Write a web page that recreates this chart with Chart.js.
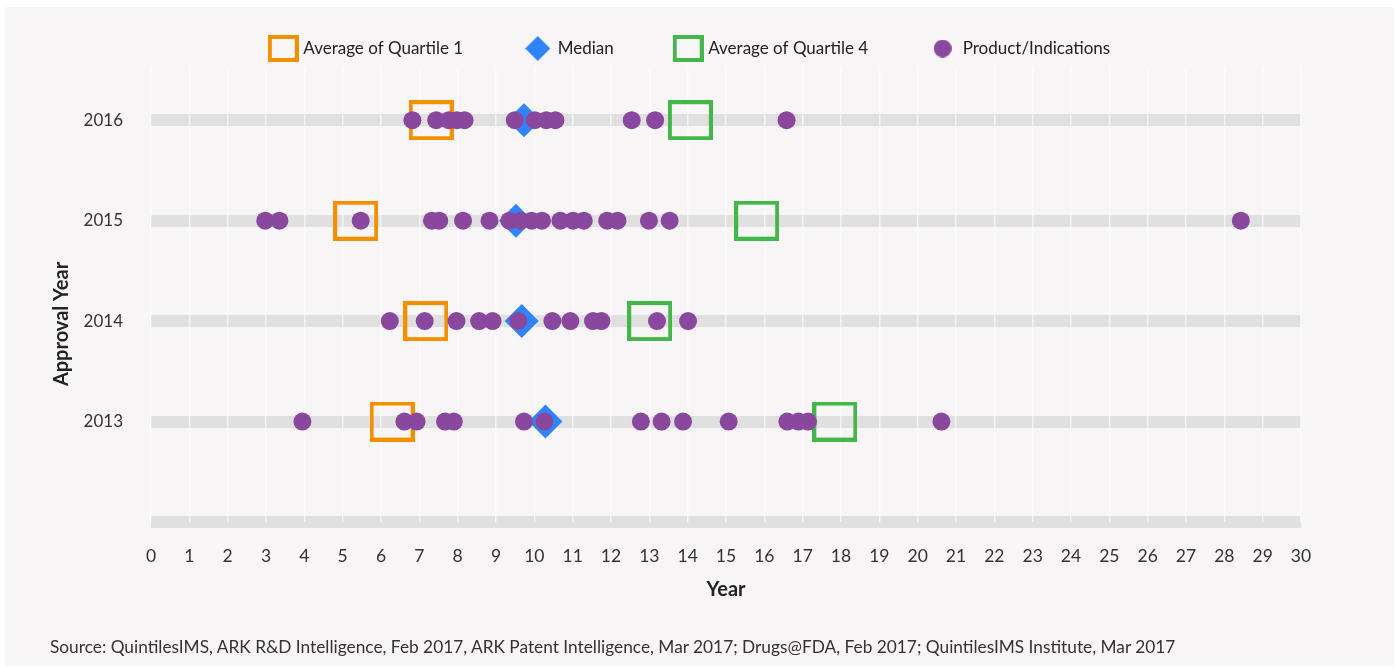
<!DOCTYPE html>
<html>
<head>
<meta charset="utf-8">
<script src="https://cdn.jsdelivr.net/npm/chart.js@4"></script>
<style>
  html, body { margin: 0; background: #fff; }
  #wrap { position: relative; width: 1397px; height: 669px; overflow: hidden; }
  #bg { position: absolute; left: 5px; top: 7px; right: 3px; bottom: 3px; background: #f7f5f6; }
  #chart { position: absolute; left: 0; top: 0; }
  #source { position: absolute; left: 50px; top: 636px; font: 17.3px Lato, sans-serif; color: #333; white-space: nowrap; }
</style>
</head>
<body>
<div id="wrap">
  <div id="bg"></div>
  <canvas id="chart" width="1397" height="669"></canvas>
  <div id="source">Source: QuintilesIMS, ARK R&amp;D Intelligence, Feb 2017, ARK Patent Intelligence, Mar 2017; Drugs@FDA, Feb 2017; QuintilesIMS Institute, Mar 2017</div>
</div>
<script>
const years = [2016, 2015, 2014, 2013];
const q1Average = [7.31, 5.34, 7.17, 6.29];
const medians = [9.73, 9.52, 9.67, 10.29];
const q4Average = [14.07, 15.8, 13.01, 17.84];

const products2016 = [6.82, 7.44, 7.77, 7.98, 8.18, 9.49, 10.01, 10.31, 10.55, 12.54, 13.15, 16.58];
const products2015 = [2.98, 3.35, 5.47, 7.33, 7.52, 8.14, 8.83, 9.35, 9.64, 9.93, 10.2, 10.68, 11.01, 11.29, 11.9, 12.17, 12.99, 13.53, 28.43];
const products2014 = [6.23, 7.14, 7.97, 8.56, 8.91, 9.58, 10.47, 10.94, 11.53, 11.75, 13.2, 14.01];
const products2013 = [3.95, 6.61, 6.93, 7.67, 7.9, 9.73, 10.26, 12.78, 13.32, 13.88, 15.07, 16.6, 16.89, 17.14, 20.62];

const yearTicks = [2012, 2013, 2014, 2015, 2016];
const xTickMax = 30;

const ORANGE = '#f39000';
const BLUE = '#2f84fc';
const GREEN = '#45b74a';
const PURPLE = '#8a479e';

function boxImage(color, w, h, lw) {
  const c = document.createElement('canvas');
  c.width = w; c.height = h;
  const g = c.getContext('2d');
  g.strokeStyle = color;
  g.lineWidth = lw;
  g.strokeRect(lw / 2, lw / 2, w - lw, h - lw);
  return c;
}
function diamondImage(color, s) {
  const c = document.createElement('canvas');
  c.width = s; c.height = s;
  const g = c.getContext('2d');
  g.fillStyle = color;
  g.beginPath();
  g.moveTo(s / 2, 0); g.lineTo(s, s / 2); g.lineTo(s / 2, s); g.lineTo(0, s / 2);
  g.closePath(); g.fill();
  return c;
}
function dotImage(color, s) {
  const c = document.createElement('canvas');
  c.width = s; c.height = s;
  const g = c.getContext('2d');
  g.fillStyle = color;
  g.beginPath(); g.arc(s / 2, s / 2, s / 2, 0, Math.PI * 2); g.fill();
  return c;
}

const toPoints = (vals) => vals.map((v, i) => ({ x: v, y: years[i] }));
const productPoints = [
  ...products2016.map(v => ({ x: v, y: 2016 })),
  ...products2015.map(v => ({ x: v, y: 2015 })),
  ...products2014.map(v => ({ x: v, y: 2014 })),
  ...products2013.map(v => ({ x: v, y: 2013 }))
];

const legendIcons = [
  boxImage(ORANGE, 31, 27, 4),
  diamondImage(BLUE, 25),
  boxImage(GREEN, 31, 27, 4),
  dotImage(PURPLE, 18)
];

// y title sits lower than the axis centre in the original, so draw it by hand
const yTitle = {
  id: 'yTitle',
  afterDraw(chart) {
    const ctx = chart.ctx;
    ctx.save();
    ctx.translate(62, 324);
    ctx.rotate(-Math.PI / 2);
    ctx.font = 'bold 20px Lato, sans-serif';
    ctx.fillStyle = '#222';
    ctx.textAlign = 'center';
    ctx.textBaseline = 'middle';
    ctx.fillText('Approval Year', 0, 0);
    ctx.restore();
  }
};

new Chart(document.getElementById('chart'), {
  type: 'scatter',
  data: {
    datasets: [
      { label: 'Average of Quartile 1', data: toPoints(q1Average), pointStyle: boxImage(ORANGE, 45, 40, 4), order: 2 },
      { label: 'Median', data: toPoints(medians), pointStyle: 'rectRot', pointRadius: 17, backgroundColor: BLUE, borderWidth: 0, order: 1 },
      { label: 'Average of Quartile 4', data: toPoints(q4Average), pointStyle: boxImage(GREEN, 45, 40, 4), order: 2 },
      { label: 'Product/Indications', data: productPoints, pointStyle: 'circle', pointRadius: 9, backgroundColor: PURPLE, borderWidth: 0, order: 0 }
    ]
  },
  options: {
    responsive: false,
    animation: false,
    layout: { padding: { top: -23, right: 15, left: 0, bottom: 0 } },
    plugins: {
      tooltip: { enabled: false },
      legend: {
        position: 'top',
        labels: {
          usePointStyle: true,
          pointStyleWidth: 23,
          padding: 63,
          color: '#222',
          font: { family: 'Lato', size: 17 },
          generateLabels(chart) {
            return chart.data.datasets.map((ds, i) => ({
              text: ds.label,
              datasetIndex: i,
              pointStyle: legendIcons[i],
              fontColor: '#222',
              hidden: false,
              lineWidth: 0
            }));
          }
        }
      }
    },
    scales: {
      y: {
        type: 'linear',
        min: 2012,
        max: 2016.53,
        afterFit(scale) { scale.width = 151; },
        afterBuildTicks(scale) { scale.ticks = yearTicks.map(v => ({ value: v })); },
        ticks: {
          padding: 28,
          color: '#333',
          font: { family: 'Lato', size: 17 },
          callback: (v) => v === 2012 ? '' : String(v)
        },
        grid: { color: '#e0e0e0', lineWidth: 12, drawTicks: false, z: -1 },
        border: { display: false }
      },
      yRight: {
        type: 'linear',
        position: 'right',
        min: 2012,
        max: 2016.53,
        afterFit(scale) { scale.width = 81; },
        ticks: { display: false },
        grid: { display: false, drawTicks: false },
        border: { display: false }
      },
      x: {
        type: 'linear',
        min: 0,
        max: xTickMax,
        afterFit(scale) { scale.height = 147; },
        ticks: {
          stepSize: 1,
          padding: 24,
          autoSkip: false,
          maxRotation: 0,
          color: '#333',
          font: { family: 'Lato', size: 17.5 }
        },
        title: {
          display: true,
          text: 'Year',
          color: '#222',
          font: { family: 'Lato', size: 20, weight: 'bold' },
          padding: { top: 0, bottom: 67 }
        },
        grid: { color: 'rgba(255,255,255,0.6)', lineWidth: 1.5, borderDash: [2, 4], drawTicks: false, z: 0 },
        border: { display: false }
      }
    }
  },
  plugins: [yTitle]
});
</script>
</body>
</html>
